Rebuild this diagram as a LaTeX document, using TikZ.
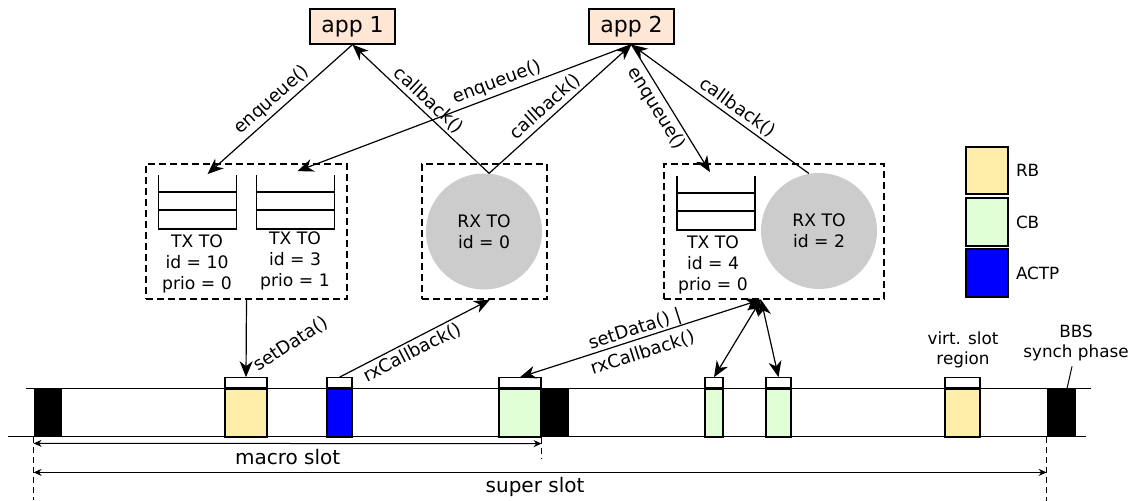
\documentclass[tikz,border=0pt]{standalone}
\usepackage{fontspec}
\setmainfont{DejaVu Sans}
\usetikzlibrary{arrows.meta,calc}
\definecolor{appfill}{HTML}{FFE6D5}
\definecolor{rbfill}{HTML}{FFEEAA}
\definecolor{cbfill}{HTML}{E0FFD6}
\definecolor{actpfill}{HTML}{0000FF}
\definecolor{rxgray}{HTML}{CCCCCC}
\tikzset{
  appbox/.style={draw, fill=appfill, line width=0.6pt, minimum width=42.5pt,
    minimum height=17.5pt, inner sep=0pt, font=\fontsize{11}{13}\selectfont},
  group/.style={draw, dash pattern=on 3.5pt off 2pt, line width=0.6pt, inner sep=0pt},
  rxto/.style={circle, fill=rxgray, minimum size=58pt, inner sep=0pt, align=center,
    font=\fontsize{8.6}{10.5}\selectfont},
  queue/.style={minimum width=38.5pt, minimum height=26.5pt, inner sep=0pt},
  qline/.style={line width=0.8pt},
  txtext/.style={align=center, font=\fontsize{8.6}{10.5}\selectfont, inner sep=0pt},
  head/.tip={Stealth[length=8pt,width=6.5pt,inset=2.5pt]},
  call/.style={line width=0.6pt, -head},
  twoway/.style={line width=0.6pt, head-head},
  fn/.style={font=\fontsize{9}{10}\selectfont, sloped, inner sep=1.5pt},
  slot/.style={draw, line width=0.6pt, minimum height=24pt, inner sep=0pt},
  slothead/.style={draw, fill=white, line width=0.6pt, minimum height=5pt, inner sep=0pt},
  sync/.style={fill=black, minimum height=24pt, inner sep=0pt},
  span/.style={line width=0.5pt, {Stealth[length=4pt,width=3.5pt]}-{Stealth[length=4pt,width=3.5pt]}},
  tick/.style={dash pattern=on 3pt off 2pt, line width=0.5pt},
  note/.style={font=\fontsize{8.4}{10}\selectfont, align=center, inner sep=0pt},
  spanlabel/.style={font=\fontsize{10}{12}\selectfont, inner sep=0pt},
}
\newcommand{\queuelines}[1]{%
  \draw[qline] (#1.north west) |- (#1.south east) -- (#1.north east);
  \draw[qline] ($(#1.south west)+(0,-19)$) -- ($(#1.south east)+(0,-19)$);
  \draw[qline] ($(#1.south west)+(0,-37)$) -- ($(#1.south east)+(0,-37)$);
}
\begin{document}
\begin{tikzpicture}[x=0.5pt,y=-0.5pt]
\useasboundingbox (0,0) rectangle (1134,501);

% applications
\node[appbox] (app1) at (352.5,26.5) {app 1};
\node[appbox] (app2) at (631.5,26.5) {app 2};

% transmission / reception object groups
\node[group, minimum width=100.5pt, minimum height=67.5pt] (boxA) at (246.5,231.5) {};
\node[group, minimum width=62.5pt, minimum height=67.5pt] (boxB) at (484.5,231.5) {};
\node[group, minimum width=110pt, minimum height=67.5pt] (boxC) at (774,231.5) {};

\node[queue] (q10) at (197.5,202) {};
\node[queue] (q3) at (295.5,202) {};
\node[queue] (q4) at (716,203) {};
\queuelines{q10}
\queuelines{q3}
\queuelines{q4}
\node[txtext] (t10) at (197,264) {TX TO\\id = 10\\prio = 0};
\node[txtext] (t3) at (295,261) {TX TO\\id = 3\\prio = 1};
\node[txtext] (t4) at (713,265) {TX TO\\id = 4\\prio = 0};

\node[rxto] (rx0) at (484,231.5) {RX TO\\id = 0};
\node[rxto] (rx2) at (819,231) {RX TO\\id = 2};

% entry points on the groups
\coordinate (in10) at ($(q10.north)+(10,-1)$);
\coordinate (in3) at ($(q3.north)+(2,-4)$);
\coordinate (in4) at ($(q4.north)+(-6,-4)$);
\coordinate (rxport) at ($(boxB.south)+(5.5,0)$);
\coordinate (cport) at ($(boxC.south)+(-13,0)$);

% application calls
\draw[call] (app1.south) -- (in10) node[fn, midway, above] {enqueue()};
\draw[call] (rx0.85) -- (app1.south) node[fn, midway, above] {callback()};
\draw[call] (app2.south) -- (in3) node[fn, pos=0.39, above] {enqueue()};
\draw[call] (rx0.85) -- (app2.south) node[fn, pos=0.45, above] {callback()};
\draw[call] (app2.south) -- (in4) node[fn, pos=0.45, below] {enqueue()};
\draw[call] (rx2.100) -- (app2.south) node[fn, pos=0.44, above] {callback()};

% time line
\coordinate (tl1) at (26,389);
\coordinate (tl2) at (1091,389);
\coordinate (bl1) at (8,437);
\coordinate (bl2) at (1086,437);
\draw[line width=0.5pt] (tl1) -- (tl2);
\draw[line width=0.5pt] (bl1) -- (bl2);

\node[sync, minimum width=14pt] (sync1) at (48,413) {};
\node[sync, minimum width=14pt] (sync2) at (555,413) {};
\node[sync, minimum width=14.5pt] (sync3) at (1061.5,413) {};

\node[slot, fill=rbfill, minimum width=21pt] (rb1) at (246,413) {};
\node[slothead, minimum width=21pt, anchor=south] (rb1h) at (rb1.north) {};
\node[slot, fill=actpfill, minimum width=12.5pt] (ac1) at (339.5,413) {};
\node[slothead, minimum width=12.5pt, anchor=south] (ac1h) at (ac1.north) {};
\node[slot, fill=cbfill, minimum width=21pt] (cb1) at (520,413) {};
\node[slothead, minimum width=21pt, anchor=south] (cb1h) at (cb1.north) {};
\node[slot, fill=cbfill, minimum width=9pt] (cb2) at (714,413) {};
\node[slothead, minimum width=9pt, anchor=south] (cb2h) at (cb2.north) {};
\node[slot, fill=cbfill, minimum width=12.5pt] (cb3) at (778.5,413) {};
\node[slothead, minimum width=12.5pt, anchor=south] (cb3h) at (cb3.north) {};
\node[slot, fill=rbfill, minimum width=17.5pt] (rb2) at (962.5,413) {};
\node[slothead, minimum width=17.5pt, anchor=south] (rb2h) at (rb2.north) {};

% slot calls
\draw[call] (boxA.south) -- (rb1h.north);
\node[font=\fontsize{9}{10}\selectfont, rotate=33, inner sep=0pt] (setlbl) at (291,344) {setData()};
\draw[call] (ac1h.north) -- (rxport) node[fn, pos=0.45, below] {rxCallback()};
\draw[twoway] (cb1h.north) -- (cport)
  node[fn, pos=0.49, align=center, inner sep=0pt, font=\fontsize{9}{12.5}\selectfont, yshift=-1pt]
  {setData() |\\rxCallback()};
\draw[twoway] (cb2h.north) -- (cport);
\draw[twoway] (cb3h.north) -- (cport);

% slot spans
\draw[tick] (sync1.south west) -- ++(0,63);
\draw[tick] (cb1.south east) -- ++(0,21);
\draw[tick] (sync3.south west) -- ++(0,64);
\draw[span] ($(sync1.south west)+(0,6)$) -- ($(cb1.south east)+(0,6)$)
  node[spanlabel, midway, yshift=-7pt] {macro slot};
\draw[span] ($(sync1.south west)+(0,35)$) -- ($(sync3.south west)+(0,35)$)
  node[spanlabel, pos=0.495, yshift=-7.5pt] {super slot};

% annotations
\node[note] (vsr) at (963,350) {virt. slot\\region};
\node[note] (bbs) at (1076,343) {BBS\\synch phase};
\draw[line width=0.5pt] ($(bbs.south)+(-4,5)$) -- ($(sync3.north)+(5.5,0)$);

% legend
\node[slot, fill=rbfill, minimum width=21pt, minimum height=23.5pt] (lrb) at (987,170.5) {};
\node[slot, fill=cbfill, minimum width=21pt, minimum height=24pt] (lcb) at (987,222) {};
\node[slot, fill=actpfill, minimum width=21pt, minimum height=24pt] (lac) at (987,273) {};
\node[note, anchor=west] (trb) at ($(lrb.east)+(7,0)$) {RB};
\node[note, anchor=west] (tcb) at ($(lcb.east)+(7,0)$) {CB};
\node[note, anchor=west] (tac) at ($(lac.east)+(7,0)$) {ACTP};
\end{tikzpicture}
\end{document}
